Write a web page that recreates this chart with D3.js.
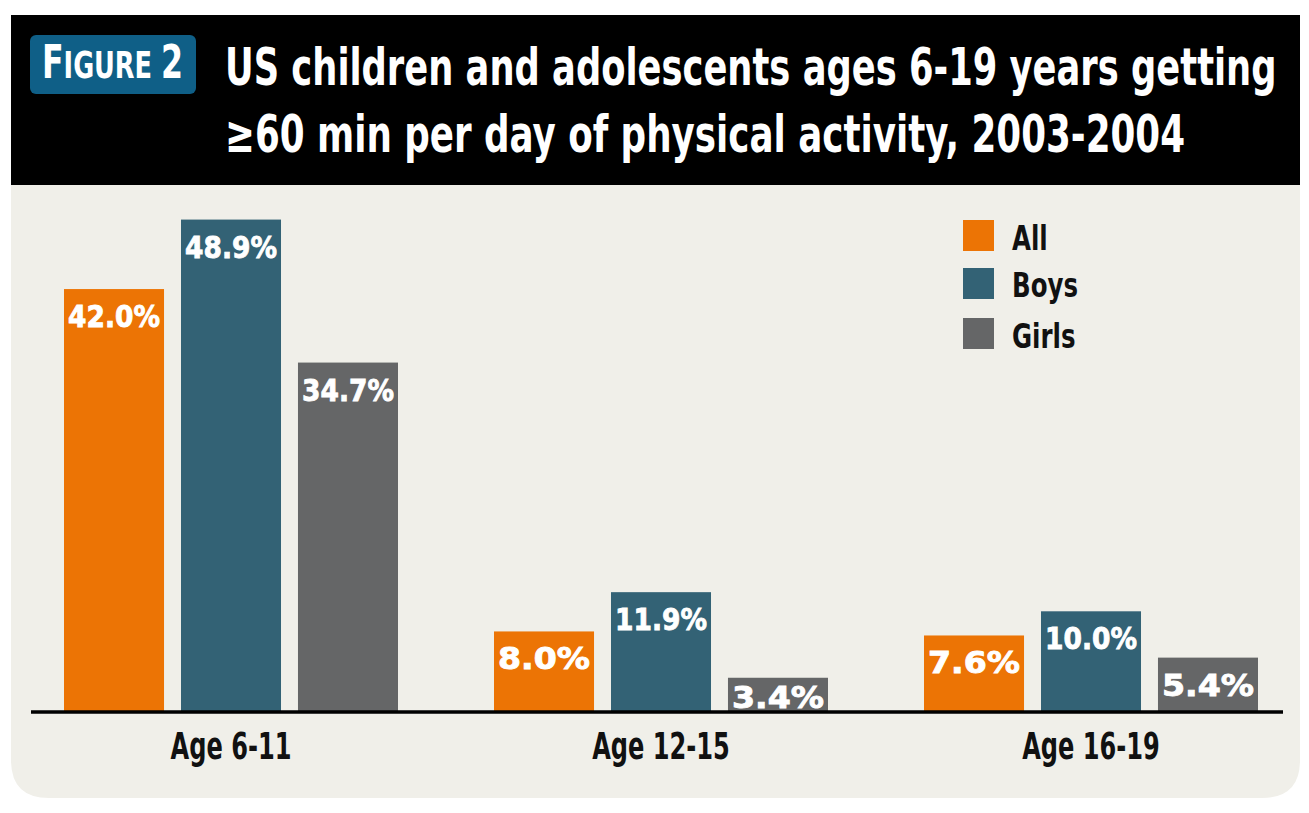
<!DOCTYPE html>
<html>
<head>
<meta charset="utf-8">
<script src="https://cdn.jsdelivr.net/npm/d3@7"></script>
<style>
  html, body { margin: 0; padding: 0; background: #ffffff; }
  svg { display: block; }
</style>
</head>
<body>
<svg id="chart" width="1309" height="813"></svg>
<script>
const categories = ["Age 6-11", "Age 12-15", "Age 16-19"];
const seriesNames = ["All", "Boys", "Girls"];
const allValues = [42.0, 8.0, 7.6];
const boysValues = [48.9, 11.9, 10.0];
const girlsValues = [34.7, 3.4, 5.4];
const titleLines = ["US children and adolescents ages 6-19 years getting", "\u226560 min per day of physical activity, 2003-2004"];

const colors = { All: "#ec7405", Boys: "#336275", Girls: "#656667" };
const seriesValues = { All: allValues, Boys: boysValues, Girls: girlsValues };

const svg = d3.select("#chart");
const condensed = "'DejaVu Sans Condensed', 'DejaVu Sans', sans-serif";

// horizontally squeeze a text element so that its width matches target
function squeeze(sel, x, y, target) {
  const w = sel.node().getComputedTextLength();
  const k = target / w;
  sel.attr("x", 0).attr("y", 0).attr("transform", `translate(${x},${y}) scale(${k},1)`);
  return k;
}

// panel background with rounded bottom corners
const L = 11, R = 1300, T = 15, HB = 185, B = 798, rad = 38;
svg.append("path")
  .attr("d", `M${L},${HB} L${R},${HB} L${R},${B - rad} Q${R},${B} ${R - rad},${B} L${L + rad},${B} Q${L},${B} ${L},${B - rad} Z`)
  .attr("fill", "#f0efe9");
svg.append("rect").attr("x", L).attr("y", T).attr("width", R - L).attr("height", HB - T).attr("fill", "#000");

// badge
svg.append("rect").attr("x", 30).attr("y", 35).attr("width", 166).attr("height", 59).attr("rx", 6).attr("fill", "#0f5f87");
const badge = svg.append("text")
  .attr("fill", "#fff").attr("font-family", condensed).attr("font-weight", "bold").attr("font-size", 47);
badge.append("tspan").text("F");
badge.append("tspan").attr("font-size", 38).text("IGURE ");
badge.append("tspan").text("2");
squeeze(badge, 42, 78, 141);

// title
const titleY = [85, 152];
const titleW = [1052, 960];
titleLines.forEach((t, i) => {
  const tt = svg.append("text")
    .attr("fill", "#fff").attr("font-family", condensed).attr("font-weight", "bold")
    .attr("font-size", 52)
    .text(t);
  squeeze(tt, 225, titleY[i], titleW[i]);
});

// scales
const x0 = d3.scaleBand().domain(categories).range([16, 1306]).paddingInner(0.2233).paddingOuter(0.11165);
const x1 = d3.scaleBand().domain(seriesNames).range([0, x0.bandwidth()]).paddingInner(0.145).paddingOuter(0);
const baseY = 712;
const y = d3.scaleLinear().domain([0, 50]).range([baseY, baseY - 503.5]);

const data = [];
categories.forEach((c, ci) => seriesNames.forEach(s => data.push({ cat: c, series: s, value: seriesValues[s][ci] })));

const g = svg.append("g");
g.selectAll("rect.bar").data(data).join("rect")
  .attr("class", "bar")
  .attr("x", d => x0(d.cat) + x1(d.series))
  .attr("y", d => y(d.value))
  .attr("width", x1.bandwidth())
  .attr("height", d => y(0) - y(d.value))
  .attr("fill", d => colors[d.series]);

g.selectAll("text.val").data(data).join("text")
  .attr("class", "val")
  .attr("fill", "#fff")
  .attr("stroke", "#fff").attr("stroke-width", 0.9)
  .attr("font-family", "'DejaVu Sans', sans-serif")
  .attr("font-weight", "bold")
  .attr("font-size", 31)
  .attr("text-anchor", "middle")
  .text(d => d.value.toFixed(1) + "%")
  .each(function (d) {
    const cx = x0(d.cat) + x1(d.series) + x1.bandwidth() / 2;
    const cy = Math.min(y(d.value) + 38, baseY - 4);
    squeeze(d3.select(this), cx, cy, 92);
  });

// axis
const axis = d3.axisBottom(x0).tickSize(0).tickPadding(0);
const axG = svg.append("g").attr("transform", `translate(0,${baseY})`).call(axis);
axG.select(".domain").remove();
axG.append("line").attr("x1", 31).attr("x2", 1283).attr("y1", 0).attr("y2", 0).attr("stroke", "#000").attr("stroke-width", 3.5);
const tickTexts = axG.selectAll(".tick text")
  .attr("dy", 0)
  .attr("fill", "#111")
  .attr("font-family", condensed).attr("font-weight", "bold").attr("font-size", 37);
const kAx = 121 / tickTexts.nodes()[0].getComputedTextLength();
tickTexts.attr("y", 0).attr("transform", `translate(0,47) scale(${kAx},1)`);

// legend
const legend = svg.append("g");
const legTexts = [];
seriesNames.forEach((s, i) => {
  const ly = [220, 268, 318][i];
  legend.append("rect").attr("x", 963).attr("y", ly).attr("width", 31).attr("height", 31).attr("fill", colors[s]);
  legTexts.push(legend.append("text").attr("fill", "#111")
    .attr("font-family", condensed).attr("font-weight", "bold").attr("font-size", 34).text(s));
});
const kLeg = 66 / legTexts[1].node().getComputedTextLength();
legTexts.forEach((t, i) => {
  const by = [250, 297, 348][i];
  t.attr("x", 0).attr("y", 0).attr("transform", `translate(1012,${by}) scale(${kLeg},1)`);
});
</script>
</body>
</html>
